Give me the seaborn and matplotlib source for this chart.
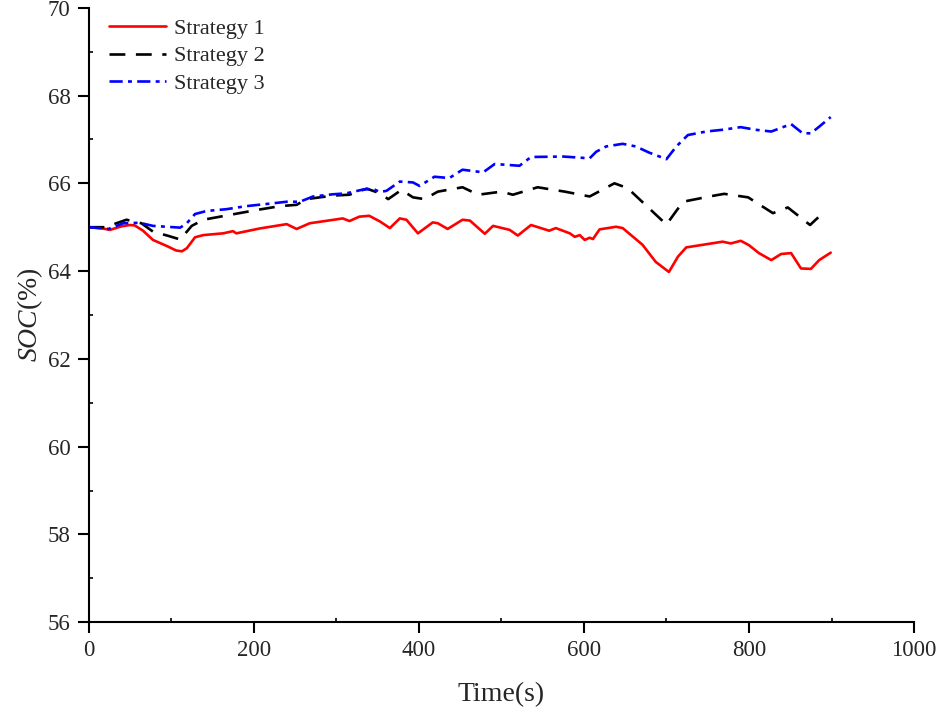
import pandas as pd
import seaborn as sns
import matplotlib.pyplot as plt
from matplotlib.ticker import MultipleLocator

# values
t1 = [0, 14, 26, 40, 50, 56, 66, 78, 95, 106, 113, 119, 129, 139, 163, 175, 179, 207, 240, 252,
      268, 308, 316, 328, 340, 353, 365, 377, 385, 399, 417, 423, 435, 453, 462, 480, 490, 510,
      520, 536, 558, 566, 583, 589, 595, 601, 607, 611, 619, 639, 647, 671, 687, 703, 714, 724,
      768, 778, 790, 800, 812, 827, 839, 851, 863, 875, 885, 899]
soc1 = [65.00, 64.98, 64.94, 65.02, 65.05, 65.04, 64.92, 64.71, 64.57, 64.47, 64.45, 64.52, 64.77,
        64.82, 64.86, 64.91, 64.86, 64.97, 65.07, 64.96, 65.09, 65.20, 65.14, 65.24, 65.26, 65.13,
        64.98, 65.20, 65.17, 64.86, 65.11, 65.09, 64.96, 65.17, 65.15, 64.85, 65.03, 64.94, 64.81,
        65.05, 64.92, 64.98, 64.86, 64.78, 64.82, 64.71, 64.76, 64.73, 64.95, 65.01, 64.98, 64.60,
        64.21, 63.98, 64.33, 64.54, 64.67, 64.63, 64.69, 64.59, 64.41, 64.25, 64.39, 64.41, 64.06,
        64.05, 64.25, 64.42]

t2 = [0, 20, 46, 64, 78, 97, 111, 125, 139, 171, 203, 232, 252, 264, 296, 316, 337, 353, 363, 379,
      393, 407, 423, 453, 472, 500, 514, 544, 577, 607, 637, 653, 683, 700, 720, 752, 770, 799,
      829, 847, 874, 891]
soc2 = [65.00, 65.00, 65.17, 65.09, 64.90, 64.80, 64.72, 65.03, 65.17, 65.28, 65.39, 65.48, 65.51,
        65.64, 65.72, 65.74, 65.88, 65.77, 65.64, 65.85, 65.68, 65.64, 65.81, 65.91, 65.74, 65.81,
        65.74, 65.91, 65.81, 65.70, 66.00, 65.89, 65.36, 65.06, 65.58, 65.70, 65.76, 65.68, 65.32,
        65.45, 65.05, 65.35]

t3 = [0, 24, 42, 62, 78, 111, 119, 129, 143, 167, 191, 216, 240, 256, 272, 296, 312, 333, 345, 353,
      361, 377, 393, 401, 419, 437, 453, 478, 492, 522, 536, 575, 607, 615, 627, 647, 663, 679,
      700, 712, 726, 748, 768, 790, 808, 827, 851, 865, 875, 885, 899]
soc3 = [65.00, 64.96, 65.09, 65.10, 65.03, 64.99, 65.09, 65.30, 65.37, 65.41, 65.48, 65.53, 65.58,
        65.58, 65.70, 65.75, 65.77, 65.86, 65.87, 65.80, 65.83, 66.04, 66.02, 65.94, 66.15, 66.12,
        66.31, 66.25, 66.44, 66.40, 66.60, 66.61, 66.57, 66.72, 66.84, 66.90, 66.84, 66.70, 66.55,
        66.84, 67.10, 67.18, 67.22, 67.28, 67.22, 67.18, 67.35, 67.14, 67.14, 67.29, 67.51]

labels = ['Strategy 1', 'Strategy 2', 'Strategy 3']

sns.set_style('ticks')
plt.rcParams['font.family'] = ['Liberation Serif', 'DejaVu Serif']
plt.rcParams['mathtext.fontset'] = 'custom'
plt.rcParams['mathtext.it'] = 'Liberation Serif:italic'
plt.rcParams['mathtext.rm'] = 'Liberation Serif'

fig = plt.figure(figsize=(9.36, 7.07), dpi=100)
ax = fig.add_axes([0.0946, 0.12, 0.882, 0.869])

sns.lineplot(x=t1, y=soc1, ax=ax, color='red', lw=1.9, label=labels[0], estimator=None, sort=False)
sns.lineplot(x=t2, y=soc2, ax=ax, color='black', lw=1.9, label=labels[1], estimator=None, sort=False,
             linestyle=(0, (6, 4)))
sns.lineplot(x=t3, y=soc3, ax=ax, color='blue', lw=1.9, label=labels[2], estimator=None, sort=False,
             linestyle=(0, (5, 2, 1.5, 2)))

ax.set_xlim(0, 1000)
ax.set_ylim(56, 70)
ax.xaxis.set_major_locator(MultipleLocator(200))
ax.xaxis.set_minor_locator(MultipleLocator(100))
ax.yaxis.set_major_locator(MultipleLocator(2))
ax.yaxis.set_minor_locator(MultipleLocator(1))
ax.tick_params(which='major', direction='out', length=8, width=1.5, labelsize=16.5, color='black', pad=5)
ax.tick_params(which='minor', direction='in', length=3, width=1.2, color='black')
for s in ['left', 'bottom']:
    ax.spines[s].set_linewidth(1.5)
    ax.spines[s].set_color('black')
sns.despine(ax=ax)

ax.set_xlabel('Time(s)', fontsize=20, labelpad=15)
ax.set_ylabel(r'$\mathit{SOC}$(%)', fontsize=20, labelpad=2)

ax.legend(loc='upper left', bbox_to_anchor=(0.0, 1.015), frameon=False, fontsize=16,
          handlelength=2.6, labelspacing=0.3, handletextpad=0.35)

fig.savefig('out.png', dpi=100)
